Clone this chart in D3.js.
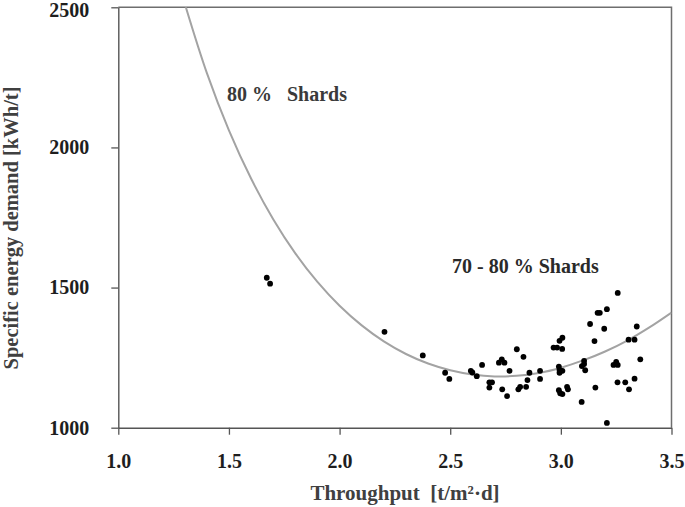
<!DOCTYPE html>
<html>
<head>
<meta charset="utf-8">
<script src="https://cdn.jsdelivr.net/npm/d3@7"></script>
<style>
  html, body { margin: 0; padding: 0; background: #fff; }
  svg { display: block; }
  text { font-family: "Liberation Serif", "Times New Roman", serif; font-weight: bold; }
</style>
</head>
<body>
<svg id="chart" width="685" height="507"></svg>
<script>
// ---- data ----
const xTicks = [1.0, 1.5, 2.0, 2.5, 3.0, 3.5];
const yTicks = [1000, 1500, 2000, 2500];

// measured points: throughput [t/m²·d]
const throughput = [
  1.671, 1.686, 2.203, 2.376, 2.477, 2.496, 2.593, 2.600, 2.620, 2.644,
  2.677, 2.689, 2.677, 2.720, 2.733, 2.745, 2.735, 2.757, 2.768, 2.801,
  2.831, 2.808, 2.816, 2.843, 2.849, 2.858, 2.906, 2.906, 2.967, 2.983,
  2.994, 3.007, 3.006, 2.991, 2.994, 3.007, 2.994, 2.991, 2.997, 3.007,
  3.028, 3.032, 3.094, 3.095, 3.105, 3.110, 3.105, 3.132, 3.152, 3.166,
  3.176, 3.208, 3.156, 3.196, 3.208, 3.257, 3.238, 3.250, 3.257, 3.256,
  3.291, 3.308, 3.306, 3.333, 3.343, 3.333, 3.359
];
// measured points: specific energy demand [kWh/t]
const energy = [
  1535, 1514, 1342, 1258, 1196, 1174, 1203, 1197, 1184, 1224,
  1162, 1162, 1143, 1232, 1244, 1232, 1137, 1113, 1203, 1280,
  1253, 1137, 1146, 1146, 1170, 1196, 1203, 1174, 1286, 1286,
  1310, 1321, 1281, 1218, 1206, 1203, 1196, 1134, 1123, 1120,
  1146, 1137, 1092, 1220, 1227, 1205, 1238, 1370, 1309, 1410,
  1410, 1423, 1143, 1353, 1017, 1481, 1224, 1235, 1224, 1162,
  1162, 1137, 1314, 1314, 1361, 1175, 1244
];

// trend curve
const curveX = [1.3, 1.4, 1.5, 1.6, 1.7, 1.8, 1.9, 2.0, 2.1, 2.2, 2.3, 2.4, 2.5, 2.6, 2.7, 2.8, 2.9, 3.0, 3.1, 3.2, 3.3, 3.4, 3.5];
const curveY = [2514, 2266, 2061, 1889, 1744, 1622, 1520, 1435, 1365, 1308, 1263, 1229, 1205, 1190, 1183, 1185, 1195, 1214, 1240, 1272, 1311, 1358, 1411];

// labels
const xTitle = "Throughput\u00a0\u00a0[t/m²·d]";
const yTitle = "Specific energy demand [kWh/t]";
const label80 = "80 %\u00a0\u00a0\u00a0Shards";
const label7080 = "70 - 80 % Shards";

// ---- layout ----
const svg = d3.select("#chart");
const pLeft = 118.3, pRight = 671.5, pTop = 7.3, pBottom = 427.7;

const x = d3.scaleLinear().domain([1.0, 3.5]).range([pLeft, pRight]);
const y = d3.scaleLinear().domain([1000, 2500]).range([pBottom, pTop]);

// frame (top & right)
svg.append("path")
  .attr("d", `M${pLeft},${pTop}H${pRight}V${pBottom}`)
  .attr("fill", "none").attr("stroke", "#6e6e6e").attr("stroke-width", 1.5);

// curve
const clipId = "plotclip";
svg.append("clipPath").attr("id", clipId).append("rect")
  .attr("x", pLeft).attr("y", pTop).attr("width", pRight - pLeft).attr("height", pBottom - pTop);

const curvePts = curveX.map((v, i) => [v, curveY[i]]);
svg.append("path")
  .datum(curvePts)
  .attr("clip-path", `url(#${clipId})`)
  .attr("fill", "none")
  .attr("stroke", "#a3a3a3")
  .attr("stroke-width", 2)
  .attr("d", d3.line().x(d => x(d[0])).y(d => y(d[1])).curve(d3.curveCatmullRom.alpha(0.5)));

// points
const pts = throughput.map((v, i) => [v, energy[i]]);
svg.append("g").selectAll("circle").data(pts).join("circle")
  .attr("cx", d => x(d[0])).attr("cy", d => y(d[1]))
  .attr("r", 2.9).attr("fill", "#000");

// axes
const xAxis = d3.axisBottom(x).tickValues(xTicks).tickFormat(d3.format(".1f")).tickSize(7).tickSizeOuter(0).tickPadding(19);
const gx = svg.append("g").attr("transform", `translate(0,${pBottom})`).call(xAxis);
const yAxis = d3.axisLeft(y).tickValues(yTicks).tickFormat(d3.format("d")).tickSize(7).tickSizeOuter(0).tickPadding(22);
const gy = svg.append("g").attr("transform", `translate(${pLeft},0)`).call(yAxis);

[gx, gy].forEach(g => {
  g.select(".domain").attr("stroke", "#555").attr("stroke-width", 1.4);
  g.selectAll(".tick line").attr("stroke", "#555").attr("stroke-width", 1.3);
  g.selectAll(".tick text")
    .attr("fill", "#1e1e1e")
    .style("font-family", '"Liberation Serif", "Times New Roman", serif')
    .style("font-weight", "bold")
    .style("font-size", "20px");
});
gy.selectAll(".tick text").filter(d => d === 2500).attr("dy", "0.45em");

// axis titles
svg.append("text")
  .attr("x", 405).attr("y", 500)
  .attr("text-anchor", "middle")
  .attr("fill", "#404040")
  .style("font-size", "21px")
  .text(xTitle);

svg.append("text")
  .attr("transform", `translate(18,228) rotate(-90)`)
  .attr("text-anchor", "middle")
  .attr("fill", "#404040")
  .style("font-size", "20.5px")
  .text(yTitle);

// in-plot labels
svg.append("text")
  .attr("x", 227).attr("y", 101)
  .attr("fill", "#3a3a3a")
  .style("font-size", "20px")
  .text(label80);

svg.append("text")
  .attr("x", 452).attr("y", 273)
  .attr("fill", "#2a2a2a")
  .style("font-size", "20px")
  .text(label7080);
</script>
</body>
</html>
